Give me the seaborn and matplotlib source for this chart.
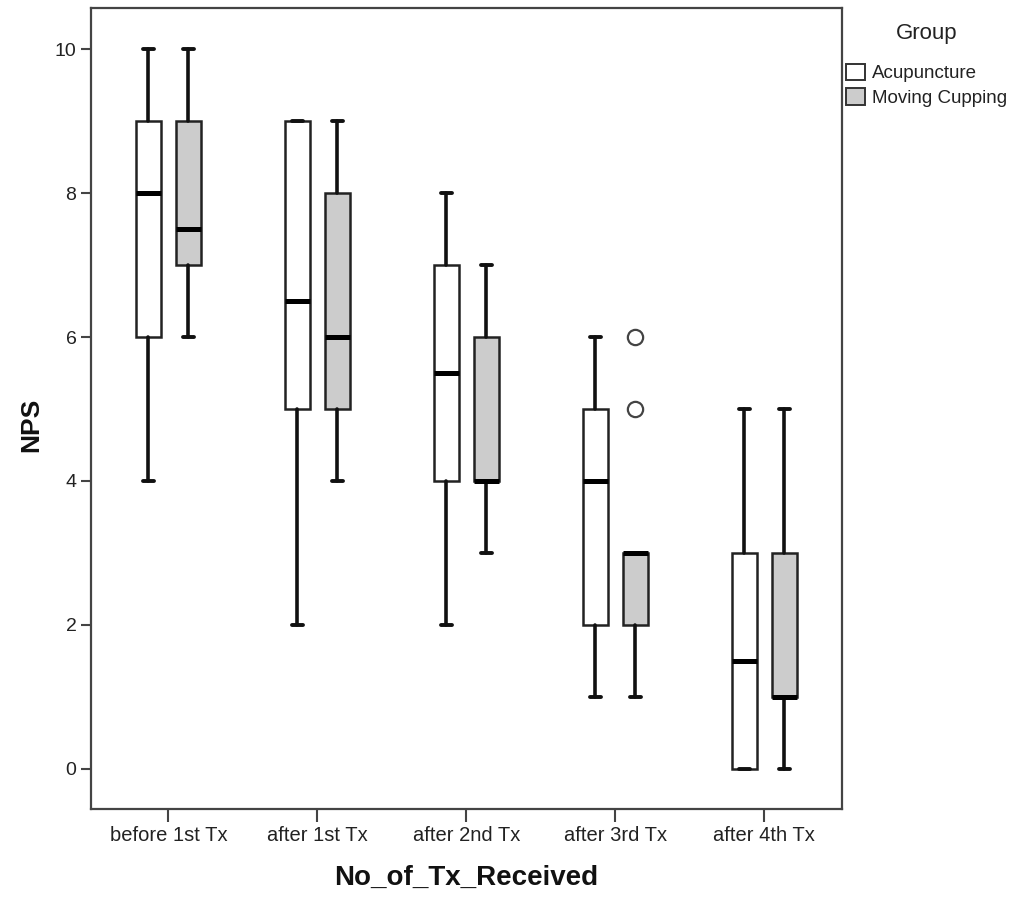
import matplotlib
matplotlib.use("Agg")
import matplotlib.pyplot as plt
from matplotlib.patches import Patch
import seaborn as sns

# ---- data ----
categories = ["before 1st Tx", "after 1st Tx", "after 2nd Tx", "after 3rd Tx", "after 4th Tx"]
groups = ["Acupuncture", "Moving Cupping"]

acu_low = [4, 2, 2, 1, 0]
acu_q1 = [6, 5, 4, 2, 0]
acu_med = [8, 6.5, 5.5, 4, 1.5]
acu_q3 = [9, 9, 7, 5, 3]
acu_high = [10, 9, 8, 6, 5]
acu_out = [[], [], [], [], []]

mc_low = [6, 4, 3, 1, 0]
mc_q1 = [7, 5, 4, 2, 1]
mc_med = [7.5, 6, 4, 3, 1]
mc_q3 = [9, 8, 6, 3, 3]
mc_high = [10, 9, 7, 3, 5]
mc_out = [[], [], [], [5, 6], []]

colors = ["#ffffff", "#cccccc"]

sns.set_style("white")
plt.rcParams["font.family"] = ["Liberation Sans", "DejaVu Sans"]

fig = plt.figure(figsize=(10.12, 8.97), dpi=100)
ax = fig.add_axes([0.0899, 0.0981, 0.742, 0.893])


def stats(low, q1, med, q3, high, out):
    return [dict(whislo=l, q1=a, med=m, q3=b, whishi=h, fliers=f)
            for l, a, m, b, h, f in zip(low, q1, med, q3, high, out)]


series = [
    stats(acu_low, acu_q1, acu_med, acu_q3, acu_high, acu_out),
    stats(mc_low, mc_q1, mc_med, mc_q3, mc_high, mc_out),
]
offsets = [-0.134, 0.134]

for s, off, col in zip(series, offsets, colors):
    pos = [i + off for i in range(len(categories))]
    ax.bxp(
        s, positions=pos, widths=0.17, patch_artist=True, manage_ticks=False,
        boxprops=dict(facecolor=col, edgecolor="#222222", linewidth=1.8),
        whiskerprops=dict(color="#111111", linewidth=2.6),
        capprops=dict(color="#111111", linewidth=2.8),
        medianprops=dict(color="#000000", linewidth=3.6, solid_capstyle="butt"),
        flierprops=dict(marker="o", markersize=11, markerfacecolor="white",
                        markeredgecolor="#444444", markeredgewidth=1.6),
        capwidths=0.075,
    )

ax.set_xlim(-0.52, len(categories) - 1 + 0.52)
ax.set_ylim(-0.556, 10.57)
ax.set_xticks(range(len(categories)))
ax.set_xticklabels(categories)
ax.set_yticks([0, 2, 4, 6, 8, 10])

for sp in ax.spines.values():
    sp.set_color("#444444")
    sp.set_linewidth(1.6)

ax.tick_params(axis="x", direction="out", length=9, width=1.5, color="#444444",
               labelsize=14.5, pad=3, labelcolor="#222222")
ax.tick_params(axis="y", direction="out", length=7.5, width=1.5, color="#444444",
               labelsize=14, pad=3, labelcolor="#222222")
ax.tick_params(bottom=True, left=True)

ax.set_xlabel("No_of_Tx_Received", fontsize=20, fontweight="bold", color="#111111")
ax.set_ylabel("NPS", fontsize=19, fontweight="bold", color="#111111")
ax.xaxis.set_label_coords(0.5, -0.0700)
ax.yaxis.set_label_coords(-0.063, 0.48)

fig.text(927 / 1012, 1 - 34 / 897, "Group", fontsize=16, color="#222222",
         ha="center", va="center")
handles = [Patch(facecolor=c, edgecolor="#333333", linewidth=1.4) for c in colors]
leg = fig.legend(handles, groups, loc="upper left", bbox_to_anchor=(0.836, 0.929),
                 frameon=False, fontsize=13.5,
                 handlelength=1.0, handleheight=1.0, handletextpad=0.4,
                 labelspacing=0.3, borderaxespad=0, borderpad=0)
for t in leg.get_texts():
    t.set_color("#222222")

fig.savefig("out.png", dpi=100)
